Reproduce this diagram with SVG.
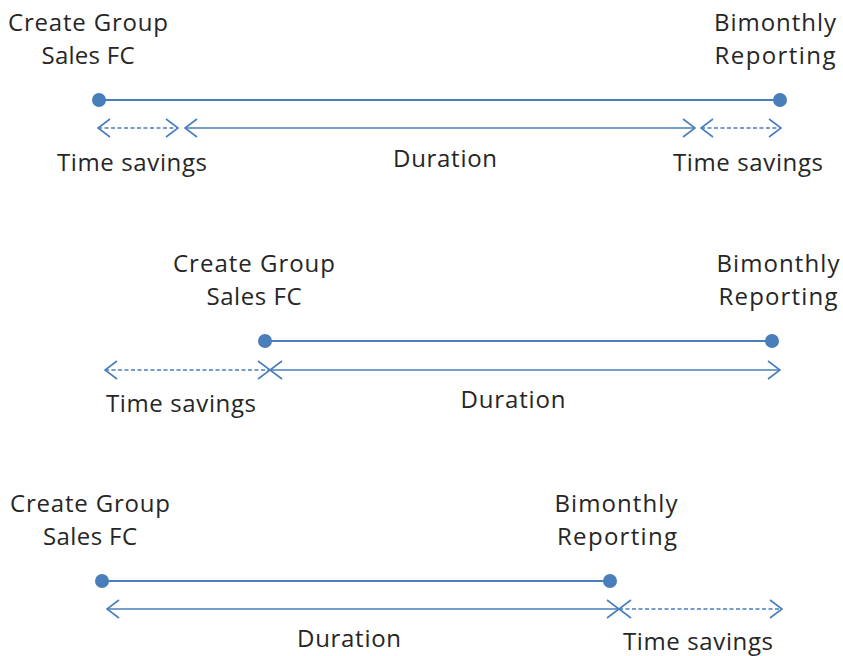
<svg xmlns="http://www.w3.org/2000/svg" width="843" height="656" viewBox="0 0 843 656">
  <style>
    text { font-family: "Open Sans", "Liberation Sans", sans-serif; font-size: 24px; fill: #262626; text-anchor: middle; }
    .span { stroke: #4a7ebb; stroke-width: 2; fill: none; }
    .arr { stroke: #4a7ebb; stroke-width: 1.6; fill: none; marker-start: url(#chev); marker-end: url(#chev); }
    .dash { stroke-dasharray: 4 2.5; }
    .dot { fill: #4a7ebb; }
  </style>
  <defs>
    <marker id="chev" viewBox="0 0 14 20" refX="13" refY="10" markerWidth="14" markerHeight="20" markerUnits="userSpaceOnUse" orient="auto-start-reverse">
      <path d="M1,1 L13,10 L1,19" fill="none" stroke="#4a7ebb" stroke-width="1.6"/>
    </marker>
  </defs>

  <!-- Scenario 1: both ends shortened -->
  <g id="s1-start">
    <text x="88" y="31" textLength="160" lengthAdjust="spacing">Create Group</text>
    <text x="88" y="64" textLength="93" lengthAdjust="spacing">Sales FC</text>
    <circle class="dot" cx="99" cy="100" r="7"/>
  </g>
  <g id="s1-end">
    <text x="775" y="31" textLength="122" lengthAdjust="spacing">Bimonthly</text>
    <text x="775" y="64" textLength="121" lengthAdjust="spacing">Reporting</text>
    <circle class="dot" cx="780" cy="100" r="7"/>
  </g>
  <g id="s1-labels">
    <text x="132" y="171" textLength="150" lengthAdjust="spacing">Time savings</text>
    <text x="445" y="167" textLength="104" lengthAdjust="spacing">Duration</text>
    <text x="748" y="171" textLength="150" lengthAdjust="spacing">Time savings</text>
  </g>

  <!-- Scenario 2: start shortened -->
  <g id="s2-start">
    <text x="254" y="272" textLength="162" lengthAdjust="spacing">Create Group</text>
    <text x="254" y="305" textLength="95" lengthAdjust="spacing">Sales FC</text>
    <circle class="dot" cx="265" cy="341" r="7"/>
  </g>
  <g id="s2-end">
    <text x="778" y="272" textLength="123" lengthAdjust="spacing">Bimonthly</text>
    <text x="778" y="305" textLength="119" lengthAdjust="spacing">Reporting</text>
    <circle class="dot" cx="772" cy="341" r="7"/>
  </g>
  <g id="s2-labels">
    <text x="181" y="412" textLength="150" lengthAdjust="spacing">Time savings</text>
    <text x="513" y="408" textLength="105" lengthAdjust="spacing">Duration</text>
  </g>

  <!-- Scenario 3: end shortened -->
  <g id="s3-start">
    <text x="90" y="512" textLength="160" lengthAdjust="spacing">Create Group</text>
    <text x="90" y="545" textLength="94" lengthAdjust="spacing">Sales FC</text>
    <circle class="dot" cx="102" cy="581" r="7"/>
  </g>
  <g id="s3-end">
    <text x="616" y="512" textLength="123" lengthAdjust="spacing">Bimonthly</text>
    <text x="617" y="545" textLength="120" lengthAdjust="spacing">Reporting</text>
    <circle class="dot" cx="610" cy="581" r="7"/>
  </g>
  <g id="s3-labels">
    <text x="349" y="647" textLength="104" lengthAdjust="spacing">Duration</text>
    <text x="698" y="650" textLength="150" lengthAdjust="spacing">Time savings</text>
  </g>

  <g id="connectors">
    <!-- scenario 1 -->
    <line class="span" x1="99" y1="100" x2="780" y2="100"/>
    <line class="arr dash" x1="98" y1="128" x2="178" y2="128"/>
    <line class="arr" x1="185" y1="128" x2="695" y2="128"/>
    <line class="arr dash" x1="701" y1="128" x2="781" y2="128"/>
    <!-- scenario 2 -->
    <line class="span" x1="265" y1="341" x2="772" y2="341"/>
    <line class="arr dash" x1="105" y1="370" x2="270" y2="370"/>
    <line class="arr" x1="270" y1="370" x2="780" y2="370"/>
    <!-- scenario 3 -->
    <line class="span" x1="102" y1="581" x2="610" y2="581"/>
    <line class="arr" x1="107" y1="609" x2="619" y2="609"/>
    <line class="arr dash" x1="619" y1="609" x2="782" y2="609"/>
  </g>
</svg>
